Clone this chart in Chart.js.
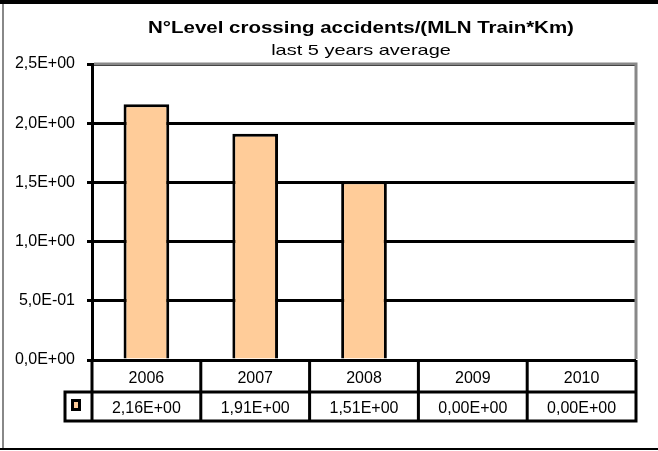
<!DOCTYPE html>
<html>
<head>
<meta charset="utf-8">
<script src="https://cdn.jsdelivr.net/npm/chart.js@4.4.1/dist/chart.umd.min.js"></script>
<style>
  html, body { margin: 0; padding: 0; background: #fff; }
  canvas { display: block; }
</style>
</head>
<body>
<canvas id="accidentschart" width="658" height="451"></canvas>
<script>
const years = ['2006', '2007', '2008', '2009', '2010'];
const values = [2.16, 1.91, 1.51, 0, 0];
const yMin = 0;
const yMax = 2.5;
const yStep = 0.5;
const titleText = 'N°Level crossing accidents/(MLN Train*Km)';
const subtitleText = 'last 5 years average';

const barColor = '#FFCC99';
const fontFamily = '"Liberation Sans", Arial, sans-serif';

// excel style "2,16E+00"
function sci(v, digits) {
    const parts = v.toExponential(digits).split('e');
    const exp = parseInt(parts[1]);
    return parts[0].replace('.', ',') + 'E' + (exp < 0 ? '-' : '+') + String(Math.abs(exp)).padStart(2, '0');
}

Chart.defaults.font.family = fontFamily;
Chart.defaults.color = '#000';

// white page, outer frame, grey plot border
const frame = {
    id: 'frame',
    beforeDraw(chart) {
        const c = chart.ctx;
        c.save();
        c.fillStyle = '#fff';
        c.fillRect(0, 0, chart.width, chart.height);
        c.fillStyle = '#000';
        c.fillRect(0, 0, chart.width, 4);
        c.fillRect(0, chart.height - 3, chart.width, 2);
        c.fillStyle = '#888';
        c.fillRect(2, 4, 2, chart.height - 7);
        c.restore();
    },
    beforeDatasetsDraw(chart) {
        const a = chart.chartArea;
        const c = chart.ctx;
        c.save();
        c.strokeStyle = '#888';
        c.lineWidth = 3;
        c.beginPath();
        c.moveTo(a.left + 2, a.top);
        c.lineTo(a.right, a.top);
        c.lineTo(a.right, a.bottom - 1);
        c.stroke();
        c.restore();
    }
};

// the excel title is drawn a bit wider than the plain font
const titles = {
    id: 'titles',
    afterDraw(chart) {
        const a = chart.chartArea;
        const c = chart.ctx;
        const cx = (a.left + a.right) / 2 - 3;
        c.save();
        c.fillStyle = '#000';
        c.textAlign = 'center';
        c.textBaseline = 'alphabetic';

        c.save();
        c.translate(cx, 33);
        c.scale(1.28, 1);
        c.font = 'bold 16px ' + fontFamily;
        c.fillText(titleText, 0, 0);
        c.restore();

        c.save();
        c.translate(cx, 55);
        c.scale(1.33, 1);
        c.font = '15px ' + fontFamily;
        c.fillText(subtitleText, 0, 0);
        c.restore();

        c.restore();
    }
};

// data table under the plot
const dataTable = {
    id: 'dataTable',
    afterDraw(chart) {
        const x = chart.scales.x;
        const a = chart.chartArea;
        const c = chart.ctx;
        const colW = (a.right - a.left) / years.length;
        const row1 = a.bottom;
        const row2 = row1 + 32;
        const row3 = row2 + 29;
        const keyLeft = 65;

        c.save();
        c.strokeStyle = '#000';
        c.lineWidth = 3;
        c.beginPath();
        // horizontal lines
        c.moveTo(keyLeft - 1.5, row2);
        c.lineTo(a.right + 1.5, row2);
        c.moveTo(keyLeft - 1.5, row3);
        c.lineTo(a.right + 1.5, row3);
        // key cell left
        c.moveTo(keyLeft, row2);
        c.lineTo(keyLeft, row3);
        // column lines
        for (let i = 0; i <= years.length; i++) {
            const px = a.left + i * colW;
            c.moveTo(px, row1);
            c.lineTo(px, row3);
        }
        c.stroke();

        c.font = '16px ' + fontFamily;
        c.fillStyle = '#000';
        c.textAlign = 'center';
        c.textBaseline = 'alphabetic';
        for (let i = 0; i < years.length; i++) {
            const cx = x.getPixelForValue(i);
            c.fillText(years[i], cx, row1 + 23);
            c.fillText(sci(values[i], 2), cx, row2 + 21);
        }

        // legend key
        c.fillStyle = barColor;
        c.fillRect(72.5, 400.5, 7, 9);
        c.lineWidth = 3;
        c.strokeRect(72.5, 400.5, 7, 9);
        c.restore();
    }
};

const ctx = document.getElementById('accidentschart');

new Chart(ctx, {
    type: 'bar',
    data: {
        labels: years,
        datasets: [
            {
                data: values,
                backgroundColor: barColor,
                borderColor: '#000',
                borderWidth: 3,
                categoryPercentage: 1,
                barPercentage: 0.42,
            }
        ]
    },
    options: {
        responsive: false,
        animation: false,
        layout: {
            padding: {
                top: 64,
                left: 6,
                right: 22,
                bottom: 91
            }
        },
        plugins: {
            legend: { display: false },
            tooltip: { enabled: false },
            title: { display: false },
        },
        scales: {
            x: {
                display: false,
            },
            y: {
                min: yMin,
                max: yMax,
                afterFit: function(scale) {
                    scale.width = 86;
                },
                ticks: {
                    stepSize: yStep,
                    padding: 12,
                    font: { size: 16 },
                    color: '#000',
                    callback: function(value) {
                        return sci(value, 1);
                    }
                },
                grid: {
                    color: '#000',
                    lineWidth: 3,
                    tickLength: 5
                },
                border: {
                    color: '#000',
                    width: 3
                }
            }
        }
    },
    plugins: [frame, titles, dataTable]
});
</script>
</body>
</html>
